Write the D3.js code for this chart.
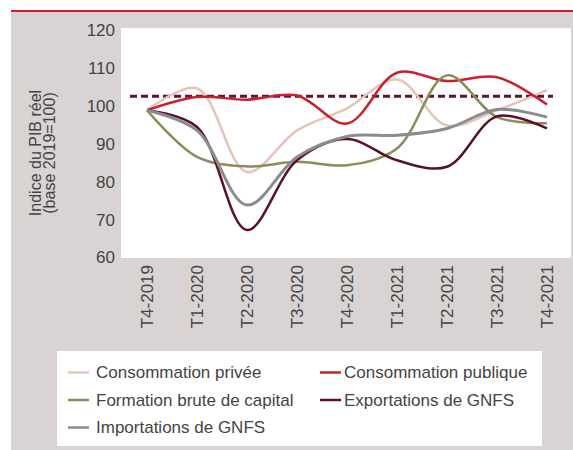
<!DOCTYPE html>
<html><head><meta charset="utf-8">
<script src="https://cdn.jsdelivr.net/npm/d3@7"></script>
<style>
html,body{margin:0;padding:0;background:#fff;}
svg{display:block;}
text{font-family:"Liberation Sans",Arial,sans-serif;fill:#444;}
</style></head>
<body><svg id="c" width="573" height="450"></svg>
<script>
const quarters = ["T4-2019","T1-2020","T2-2020","T3-2020","T4-2020","T1-2021","T2-2021","T3-2021","T4-2021"];
const consPrivee   = [98.7, 104.5, 82.4, 93.4, 99.2, 106.8, 94.7, 98.7, 104.0];
const consPublique = [98.7, 102.2, 101.5, 102.6, 95.2, 108.6, 106.4, 107.4, 100.2];
const formation    = [98.7, 86.4, 83.9, 85.1, 84.2, 88.6, 107.9, 96.9, 95.3];
const exportations = [98.7, 94.3, 67.1, 85.5, 91.1, 85.5, 83.8, 97.1, 93.9];
const importations = [98.7, 93.4, 73.7, 86.4, 91.8, 92.1, 93.9, 98.9, 96.9];
const refLevel = 102.4;
const yTicks = [60, 70, 80, 90, 100, 110, 120];
const seriesNames = ["Consommation privée","Consommation publique","Formation brute de capital","Exportations de GNFS","Importations de GNFS"];
const seriesColors = ["#e4c5b7","#c8202f","#8d8b5b","#5a1128","#8a8d8d"];
const seriesWidths = [2.5, 2.5, 2.5, 2.5, 3];
const seriesData = [consPrivee, consPublique, formation, exportations, importations];

const svg = d3.select("#c");
svg.append("rect").attr("x",11).attr("y",12).attr("width",562).attr("height",438).attr("fill","#d9d3d3");
svg.append("line").attr("x1",11).attr("x2",573).attr("y1",11).attr("y2",11).attr("stroke","#c8202f").attr("stroke-width",2);

const plot = {left:121, right:571, top:28, bottom:258};
svg.append("rect").attr("x",plot.left).attr("y",plot.top).attr("width",plot.right-plot.left).attr("height",plot.bottom-plot.top).attr("fill","#fff");

const x = d3.scalePoint().domain(quarters).range([147,547]);
const y = d3.scaleLinear().domain([60,120]).range([257,29.5]);

const yAxis = d3.axisLeft(y).tickValues(yTicks).tickSize(0).tickPadding(0);
const gy = svg.append("g").attr("transform","translate(115,0)").call(yAxis);
gy.select(".domain").remove();
gy.selectAll("text").style("font-size","17px").style("fill","#444").attr("font-family",null).attr("dy","0.35em");

const xAxis = d3.axisBottom(x).tickSize(0).tickPadding(0);
const gx = svg.append("g").attr("transform","translate(0,265)").call(xAxis);
gx.select(".domain").remove();
gx.selectAll("text").style("font-size","17px").style("fill","#444")
  .attr("text-anchor","end").attr("transform","rotate(-90)").attr("x",0).attr("y",0).attr("dy","0.35em");

const yt = svg.append("text").attr("transform","translate(41,153) rotate(-90)").attr("text-anchor","middle").style("font-size","16px");
yt.append("tspan").attr("x",0).attr("y",0).text("Indice du PIB réel");
yt.append("tspan").attr("x",0).attr("y",14).text("(base 2019=100)");

const step = x.step();
svg.append("line")
  .attr("x1", x(quarters[0]) - step*0.34).attr("x2", x(quarters[quarters.length-1]) + step*0.12)
  .attr("y1", y(refLevel)).attr("y2", y(refLevel))
  .attr("stroke","#5a1730").attr("stroke-width",2.8).attr("stroke-dasharray","7,4");

const line = d3.line().x((d,i)=>x(quarters[i])).y(d=>y(d)).curve(d3.curveCatmullRom.alpha(0.5));
seriesData.forEach((s,k)=>{
  svg.append("path").attr("d",line(s)).attr("fill","none").attr("stroke",seriesColors[k]).attr("stroke-width",seriesWidths[k]).attr("stroke-linejoin","round");
});

svg.append("rect").attr("x",57).attr("y",351).attr("width",485).attr("height",95).attr("fill","#fff");
const legPos = [[68,372.5],[320,372.5],[68,400],[320,400],[68,427.5]];
seriesNames.forEach((n,k)=>{
  const [lx,ly] = legPos[k];
  svg.append("line").attr("x1",lx).attr("x2",lx+21).attr("y1",ly).attr("y2",ly).attr("stroke",seriesColors[k]).attr("stroke-width",2.5);
  svg.append("text").attr("x",lx+(k%2===0?28:24)).attr("y",ly).attr("dy","0.35em").style("font-size","17px").text(n);
});
</script></body></html>
